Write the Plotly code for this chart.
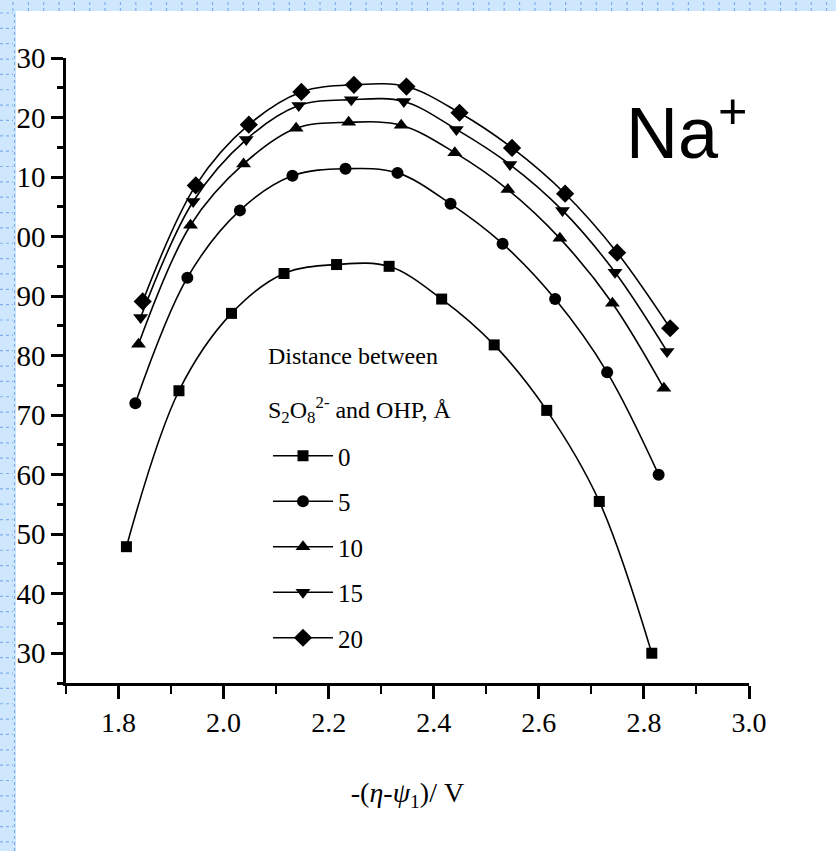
import plotly.graph_objects as go

# ---- data ----
x_d0 = [1.815, 1.915, 2.015, 2.115, 2.215, 2.315, 2.415, 2.515, 2.615, 2.715, 2.815]
y_d0 = [47.9, 74.1, 87.1, 93.8, 95.3, 95.0, 89.5, 81.8, 70.8, 55.5, 30.0]

x_d5 = [1.832, 1.931, 2.031, 2.131, 2.232, 2.331, 2.432, 2.531, 2.631, 2.730, 2.828]
y_d5 = [72.0, 93.1, 104.4, 110.2, 111.4, 110.7, 105.5, 98.8, 89.5, 77.2, 60.0]

x_d10 = [1.838, 1.937, 2.038, 2.138, 2.238, 2.338, 2.440, 2.541, 2.640, 2.740, 2.838]
y_d10 = [81.9, 101.9, 112.2, 118.2, 119.2, 118.7, 114.1, 107.9, 99.7, 88.8, 74.5]

x_d15 = [1.842, 1.942, 2.043, 2.143, 2.243, 2.343, 2.443, 2.545, 2.645, 2.745, 2.844]
y_d15 = [86.4, 105.9, 116.3, 122.0, 123.0, 122.7, 118.0, 112.1, 104.4, 94.0, 80.7]

x_d20 = [1.846, 1.947, 2.048, 2.148, 2.248, 2.348, 2.449, 2.549, 2.650, 2.749, 2.850]
y_d20 = [89.1, 108.6, 118.8, 124.3, 125.5, 125.2, 120.8, 114.9, 107.2, 97.3, 84.6]

series_names = ["0", "5", "10", "15", "20"]
y_tickvals = [130, 120, 110, 100, 90, 80, 70, 60, 50, 40, 30]
y_ticktext = ["30", "20", "10", "00", "90", "80", "70", "60", "50", "40", "30"]

# ---- figure geometry ----
W, H = 836, 851
L, R, T, B = 66, 87, 58, 168
PW, PH = W - L - R, H - T - B

def px_x(p):
    return (p - L) / PW

def px_y(p):
    return (H - B - p) / PH

SERIF = "Liberation Serif"

fig = go.Figure()
xs = [x_d0, x_d5, x_d10, x_d15, x_d20]
ys = [y_d0, y_d5, y_d10, y_d15, y_d20]
symbols = ["square", "circle", "triangle-up", "triangle-down", "diamond"]
sizes = [11, 12, 13, 13, 14]
for i in range(5):
    fig.add_trace(go.Scatter(
        x=xs[i], y=ys[i], name=series_names[i], mode="lines+markers",
        line=dict(color="black", width=1.6, shape="spline", smoothing=1.0),
        marker=dict(symbol=symbols[i], size=sizes[i], color="black"),
        legendgroup="g" + series_names[i],
    ))

shapes = []
STRIP = "#cfe7fd"
DOT = "#7faeef"
# left strip
shapes.append(dict(type="rect", xref="paper", yref="paper",
                   x0=px_x(0), x1=px_x(16), y0=px_y(H), y1=px_y(0),
                   fillcolor=STRIP, line=dict(width=0), layer="below"))
# top strip
shapes.append(dict(type="rect", xref="paper", yref="paper",
                   x0=px_x(0), x1=px_x(W), y0=px_y(11), y1=px_y(0),
                   fillcolor=STRIP, line=dict(width=0), layer="below"))
p = 13.0
while p < W:
    shapes.append(dict(type="line", xref="paper", yref="paper",
                       x0=px_x(p), x1=px_x(p), y0=px_y(11), y1=px_y(0),
                       line=dict(color=DOT, width=1.2, dash="dot")))
    p += 15.35
p = 13.0
while p < H:
    shapes.append(dict(type="line", xref="paper", yref="paper",
                       x0=px_x(0), x1=px_x(13), y0=px_y(p), y1=px_y(p),
                       line=dict(color=DOT, width=1.2, dash="dot")))
    p += 15.35
shapes.append(dict(type="line", xref="paper", yref="paper",
                   x0=px_x(14.5), x1=px_x(14.5), y0=px_y(H), y1=px_y(11),
                   line=dict(color=DOT, width=1.2, dash="dot")))

annotations = [
    dict(text="Na<sup>+</sup>", xref="paper", yref="paper",
         x=px_x(624), y=px_y(128), xanchor="left", yanchor="middle",
         showarrow=False, font=dict(family="Liberation Sans", size=72, color="black")),
    dict(text="Distance between", xref="paper", yref="paper",
         x=px_x(266), y=px_y(356), xanchor="left", yanchor="middle",
         showarrow=False, font=dict(family=SERIF, size=24, color="black")),
    dict(text="S<sub>2</sub>O<sub>8</sub><sup>2-</sup> and OHP, Å", xref="paper", yref="paper",
         x=px_x(266), y=px_y(410), xanchor="left", yanchor="middle",
         showarrow=False, font=dict(family=SERIF, size=24, color="black")),
]

fig.update_layout(
    width=W, height=H, autosize=False,
    margin=dict(l=L, r=R, t=T, b=B),
    paper_bgcolor="white", plot_bgcolor="white",
    shapes=shapes, annotations=annotations,
    showlegend=True,
    legend=dict(x=px_x(268), y=px_y(433), xanchor="left", yanchor="top",
                bgcolor="rgba(0,0,0,0)", font=dict(family=SERIF, size=25, color="black"),
                tracegroupgap=10, itemwidth=60),
    xaxis=dict(range=[1.7, 3.0], tick0=1.8, dtick=0.2, tickformat=".1f",
               ticks="outside", ticklen=13, tickwidth=2.5, tickcolor="black",
               showline=True, linewidth=2.5, linecolor="black",
               showgrid=False, zeroline=False,
               tickfont=dict(family=SERIF, size=28, color="black"),
               minor=dict(tick0=1.7, dtick=0.1, ticks="outside", ticklen=8, tickwidth=2,
                          tickcolor="black", showgrid=False),
               title=dict(text="-(<i>η</i>-<i>ψ</i><sub>1</sub>)/ V", standoff=46,
                          font=dict(family=SERIF, size=28, color="black"))),
    yaxis=dict(range=[25, 130], tickvals=y_tickvals, ticktext=y_ticktext,
               ticks="outside", ticklen=12, tickwidth=3, tickcolor="black",
               showline=True, linewidth=2.5, linecolor="black",
               showgrid=False, zeroline=False,
               tickfont=dict(family=SERIF, size=29, color="black"),
               minor=dict(tick0=25, dtick=5, ticks="outside", ticklen=6, tickwidth=2.5,
                          tickcolor="black", showgrid=False)),
)

fig.write_html("out.html")
